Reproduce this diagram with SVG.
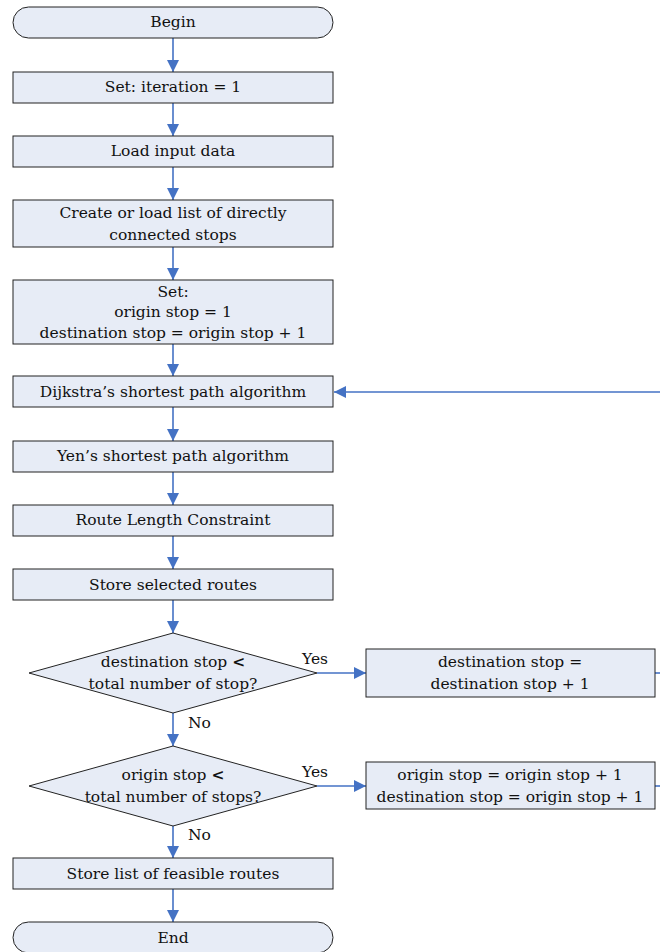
<svg xmlns="http://www.w3.org/2000/svg" width="660" height="952" viewBox="0 0 660 952">
<style>
.n{fill:#E7ECF6;stroke:#222;stroke-width:1}
.t{font-family:"DejaVu Serif","Liberation Serif",serif;font-size:15.5px;fill:#111;text-anchor:middle}
.l{font-family:"DejaVu Serif","Liberation Serif",serif;font-size:15.5px;fill:#111}
.c{stroke:#4472C4;stroke-width:1.6;fill:none}
</style>
<defs>
<marker id="a" viewBox="0 0 12 12" refX="12" refY="6" markerWidth="12" markerHeight="12" markerUnits="userSpaceOnUse" orient="auto">
<path d="M0,0 L12,6 L0,12 Z" fill="#4472C4"/>
</marker>
</defs>
<rect width="660" height="952" fill="#fff"/>
<g id="connectors">
<line class="c" x1="173" y1="38" x2="173" y2="72" marker-end="url(#a)"/>
<line class="c" x1="173" y1="103" x2="173" y2="136" marker-end="url(#a)"/>
<line class="c" x1="173" y1="167" x2="173" y2="200" marker-end="url(#a)"/>
<line class="c" x1="173" y1="247" x2="173" y2="280" marker-end="url(#a)"/>
<line class="c" x1="173" y1="344" x2="173" y2="376" marker-end="url(#a)"/>
<line class="c" x1="173" y1="407" x2="173" y2="441" marker-end="url(#a)"/>
<line class="c" x1="173" y1="472" x2="173" y2="505" marker-end="url(#a)"/>
<line class="c" x1="173" y1="536" x2="173" y2="569" marker-end="url(#a)"/>
<line class="c" x1="173" y1="600" x2="173" y2="633" marker-end="url(#a)"/>
<line class="c" x1="173" y1="713" x2="173" y2="746" marker-end="url(#a)"/>
<line class="c" x1="173" y1="826" x2="173" y2="858" marker-end="url(#a)"/>
<line class="c" x1="173" y1="889" x2="173" y2="922" marker-end="url(#a)"/>
<line class="c" x1="317" y1="673" x2="366" y2="673" marker-end="url(#a)"/>
<line class="c" x1="317" y1="786" x2="366" y2="786" marker-end="url(#a)"/>
<line class="c" x1="655" y1="673" x2="662" y2="673"/>
<line class="c" x1="655" y1="786" x2="662" y2="786"/>
<line class="c" x1="662" y1="392" x2="334" y2="392" marker-end="url(#a)"/>
<text class="l" x="302" y="664">Yes</text>
<text class="l" x="188" y="728">No</text>
<text class="l" x="302" y="777">Yes</text>
<text class="l" x="188" y="840">No</text>
</g>
<g id="begin"><rect class="n" x="13" y="7" width="320" height="31" rx="15.5"/><text class="t" x="173" y="27">Begin</text></g>
<g id="set-iteration"><rect class="n" x="13" y="72" width="320" height="31"/><text class="t" x="173" y="92">Set: iteration = 1</text></g>
<g id="load-input"><rect class="n" x="13" y="136" width="320" height="31"/><text class="t" x="173" y="156">Load input data</text></g>
<g id="create-list"><rect class="n" x="13" y="200" width="320" height="47"/><text class="t" x="173" y="218">Create or load list of directly</text><text class="t" x="173" y="240">connected stops</text></g>
<g id="set-stops"><rect class="n" x="13" y="280" width="320" height="64"/><text class="t" x="173" y="297">Set:</text><text class="t" x="173" y="317">origin stop = 1</text><text class="t" x="173" y="338">destination stop = origin stop + 1</text></g>
<g id="dijkstra"><rect class="n" x="13" y="376" width="320" height="31"/><text class="t" x="173" y="397">Dijkstra’s shortest path algorithm</text></g>
<g id="yen"><rect class="n" x="13" y="441" width="320" height="31"/><text class="t" x="173" y="461">Yen’s shortest path algorithm</text></g>
<g id="route-length"><rect class="n" x="13" y="505" width="320" height="31"/><text class="t" x="173" y="525">Route Length Constraint</text></g>
<g id="store-selected"><rect class="n" x="13" y="569" width="320" height="31"/><text class="t" x="173" y="590">Store selected routes</text></g>
<g id="decision-destination"><polygon class="n" points="173,633 317,673 173,713 29,673"/><text class="t" x="173" y="667">destination stop <tspan font-weight="bold">&lt;</tspan></text><text class="t" x="173" y="689">total number of stop?</text></g>
<g id="increment-destination"><rect class="n" x="366" y="649" width="289" height="48"/><text class="t" x="510" y="667">destination stop =</text><text class="t" x="510" y="689">destination stop + 1</text></g>
<g id="decision-origin"><polygon class="n" points="173,746 317,786 173,826 29,786"/><text class="t" x="173" y="780">origin stop <tspan font-weight="bold">&lt;</tspan></text><text class="t" x="173" y="802">total number of stops?</text></g>
<g id="increment-origin"><rect class="n" x="366" y="762" width="289" height="47"/><text class="t" x="510" y="780">origin stop = origin stop + 1</text><text class="t" x="510" y="802">destination stop = origin stop + 1</text></g>
<g id="store-feasible"><rect class="n" x="13" y="858" width="320" height="31"/><text class="t" x="173" y="879">Store list of feasible routes</text></g>
<g id="end"><rect class="n" x="13" y="922" width="320" height="31" rx="15.5"/><text class="t" x="173" y="943">End</text></g>
</svg>
